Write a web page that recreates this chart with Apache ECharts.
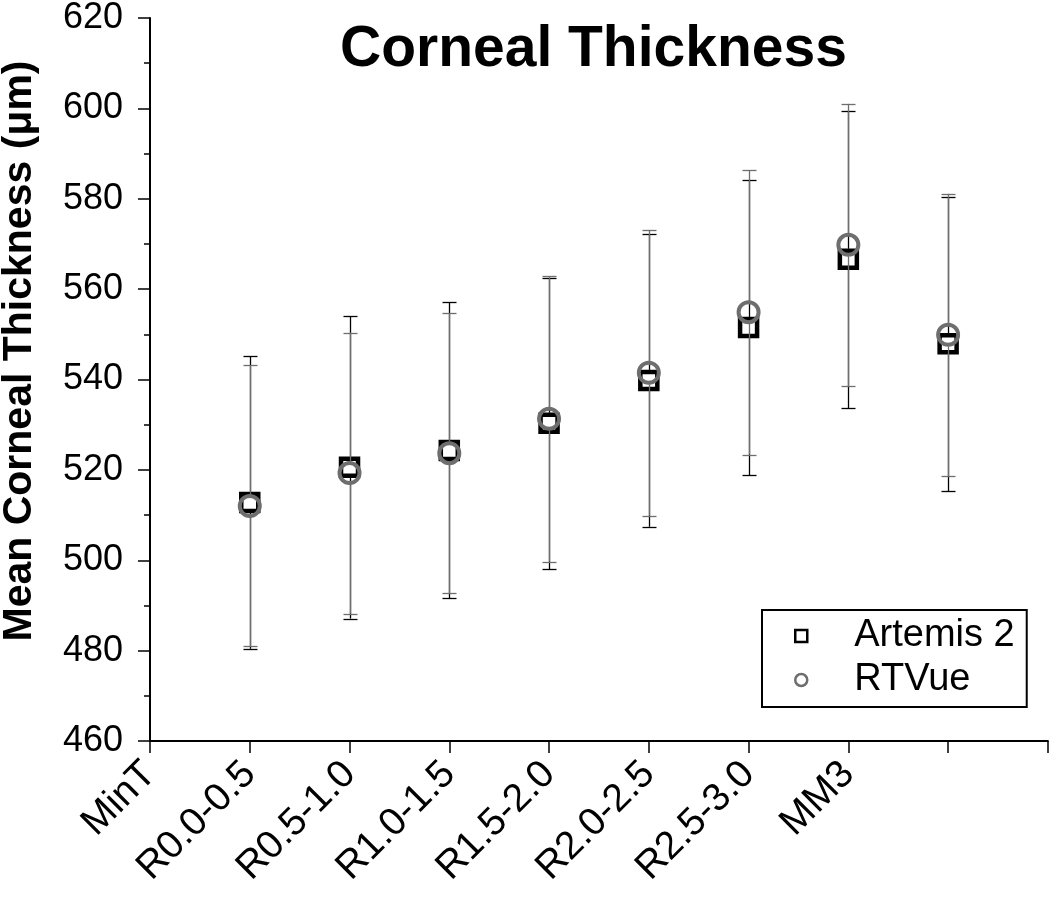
<!DOCTYPE html>
<html>
<head>
<meta charset="utf-8">
<script src="https://cdn.jsdelivr.net/npm/echarts@6/dist/echarts.min.js"></script>
<style>
html,body{margin:0;padding:0;background:#fff;}
#chart{width:1050px;height:903px;}
</style>
</head>
<body>
<div id="chart"></div>
<script>
// Tick labels as printed under the x axis (positions 0..7)
var tickLabels = ['MinT','R0.0-0.5','R0.5-1.0','R1.0-1.5','R1.5-2.0','R2.0-2.5','R2.5-3.0','MM3'];
// x positions of the plotted points
var xPositions = [1,2,3,4,5,6,7,8];

var artemisMean  = [512.8, 520.6, 524.3, 530.3, 539.8, 551.5, 566.6, 547.9];
var artemisUpper = [545.1, 554.0, 557.1, 562.5, 572.1, 584.1, 599.5, 580.4];
var artemisLower = [480.4, 487.1, 491.6, 498.0, 507.4, 518.8, 533.6, 515.3];

var rtvueMean  = [512.0, 519.3, 523.7, 531.3, 541.5, 554.9, 569.8, 549.9];
var rtvueUpper = [543.1, 550.4, 554.7, 562.9, 573.1, 586.3, 601.0, 581.1];
var rtvueLower = [481.0, 488.2, 492.7, 499.7, 509.9, 523.4, 538.5, 518.6];

var FONT = "'Liberation Sans', Arial, Helvetica, sans-serif";
var GRAY = '#6e6e6e';

function errData(mean, lo, hi){
  return xPositions.map(function(x,i){ return [x, lo[i], hi[i], mean[i]]; });
}
function ptData(mean){
  return xPositions.map(function(x,i){ return [x, mean[i]]; });
}
function errRender(color, gap){
  return function(params, api){
    var x = api.value(0), lo = api.value(1), hi = api.value(2), m = api.value(3);
    var pm = api.coord([x, m]), ph = api.coord([x, hi]), pl = api.coord([x, lo]);
    var cx = Math.round(pm[0]) + 0.5;
    var hw = 7;
    var st = {stroke: color, lineWidth: 1.3};
    return {
      type: 'group',
      children: [
        {type:'line', shape:{x1:cx, y1:pm[1]-gap, x2:cx, y2:ph[1]}, style:st},
        {type:'line', shape:{x1:cx, y1:pm[1]+gap, x2:cx, y2:pl[1]}, style:st},
        {type:'line', shape:{x1:cx-hw, y1:Math.round(ph[1])+0.5, x2:cx+hw, y2:Math.round(ph[1])+0.5}, style:st},
        {type:'line', shape:{x1:cx-hw, y1:Math.round(pl[1])+0.5, x2:cx+hw, y2:Math.round(pl[1])+0.5}, style:st}
      ]
    };
  };
}

var chart = echarts.init(document.getElementById('chart'), null, {renderer:'canvas'});
chart.setOption({
  animation: false,
  backgroundColor: '#fff',
  title: {
    text: 'Corneal Thickness',
    left: 340, top: 22, padding: 0,
    textStyle: {fontFamily: FONT, fontSize: 57, fontWeight: 'bold', color: '#000'}
  },
  graphic: [{
    type: 'text',
    x: 20, y: 351,
    rotation: Math.PI/2,
    style: {
      text: 'Mean Corneal Thickness (\u03bcm)',
      font: 'bold 41px ' + FONT,
      fill: '#000',
      align: 'center',
      verticalAlign: 'middle'
    }
  }],
  legend: {
    orient: 'vertical',
    left: 762, top: 610,
    padding: [6, 12, 7, 32],
    borderColor: '#000', borderWidth: 2,
    itemWidth: 12, itemHeight: 12,
    itemGap: 4,
    selectedMode: false,
    textStyle: {fontFamily: FONT, fontSize: 38, color: '#000', lineHeight: 40,
      rich: {g: {width: 42}}},
    formatter: function(n){ return '{g|}' + n; },
    data: [
      {name: 'Artemis 2', icon: 'rect', itemStyle: {color: 'transparent', borderColor: '#000', borderWidth: 2.5}},
      {name: 'RTVue', icon: 'circle', itemStyle: {color: 'transparent', borderColor: GRAY, borderWidth: 2.5}}
    ]
  },
  grid: {left: 150, right: 2, top: 18, bottom: 162, containLabel: false},
  xAxis: {
    type: 'value', min: 0, max: 9, interval: 1,
    splitLine: {show: false},
    axisLine: {show: true, onZero: false, lineStyle: {color: '#000', width: 2}},
    axisTick: {show: true, inside: false, length: 12, lineStyle: {color: '#000', width: 1.5}},
    axisLabel: {
      rotate: 45, margin: 27,
      fontFamily: FONT, fontSize: 39, color: '#000',
      showMinLabel: true, showMaxLabel: true,
      formatter: function(v){ return (v >= 0 && v < tickLabels.length && v === Math.round(v)) ? tickLabels[v] : ''; }
    }
  },
  yAxis: {
    type: 'value', min: 460, max: 620, interval: 20,
    splitLine: {show: false},
    axisLine: {show: true, onZero: false, lineStyle: {color: '#000', width: 2}},
    axisTick: {show: true, inside: false, length: 12, lineStyle: {color: '#000', width: 1.5}},
    minorTick: {show: true, splitNumber: 2, length: 6, lineStyle: {color: '#000', width: 1.5}},
    axisLabel: {margin: 27, fontFamily: FONT, fontSize: 36, color: '#000'}
  },
  series: [
    {
      name: 'Artemis 2 SD', type: 'custom', z: 1,
      renderItem: errRender('#000', 10.5),
      encode: {x: 0, y: [1, 2]},
      data: errData(artemisMean, artemisLower, artemisUpper)
    },
    {
      name: 'Artemis 2', type: 'scatter', z: 2,
      symbol: 'rect', symbolSize: 17,
      itemStyle: {color: 'transparent', borderColor: '#000', borderWidth: 4.5, opacity: 1},
      data: ptData(artemisMean)
    },
    {
      name: 'RTVue SD', type: 'custom', z: 3,
      renderItem: errRender(GRAY, 11.5),
      encode: {x: 0, y: [1, 2]},
      data: errData(rtvueMean, rtvueLower, rtvueUpper)
    },
    {
      name: 'RTVue', type: 'scatter', z: 4,
      symbol: 'circle', symbolSize: 20,
      itemStyle: {color: 'transparent', borderColor: GRAY, borderWidth: 4, opacity: 1},
      data: ptData(rtvueMean)
    }
  ]
});
</script>
</body>
</html>
